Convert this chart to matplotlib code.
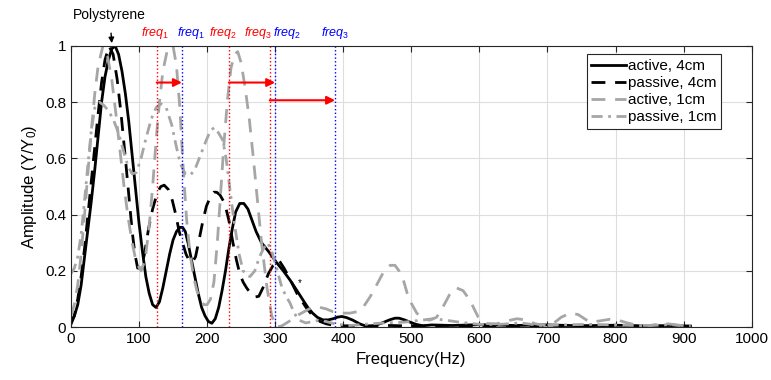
import numpy as np
import matplotlib
matplotlib.use("Agg")
import matplotlib.pyplot as plt

plt.rcParams['font.family'] = ['Liberation Sans', 'DejaVu Sans']
plt.rcParams['mathtext.fontset'] = 'custom'
plt.rcParams['mathtext.rm'] = 'Liberation Sans'
plt.rcParams['mathtext.it'] = 'Liberation Sans:italic'

# -------- data --------

# active, 4cm (black solid)
f_a4 = [0, 5, 10, 15, 20, 25, 30, 35, 40, 45, 50, 55, 60, 65, 70, 75, 80, 85, 90, 95,
        100, 105, 110, 115, 120, 125, 130, 135, 140, 145, 150, 155, 160, 164, 168, 172,
        177, 182, 187, 192, 197, 202, 207, 212, 217, 222, 227, 232, 237, 242, 248, 254,
        260, 266, 272, 280, 290, 302, 312, 322, 332, 341, 348, 355, 362, 370, 378, 385,
        392, 398, 405, 414, 424, 434, 442, 449, 458, 468, 476, 482, 490, 498, 507, 517,
        530, 560, 600, 650, 700, 750, 800, 850, 880, 910]
a_a4 = [0.02, 0.04, 0.08, 0.15, 0.25, 0.35, 0.45, 0.56, 0.68, 0.8, 0.89, 0.95, 0.99, 1.0,
        0.97, 0.91, 0.83, 0.73, 0.61, 0.49, 0.37, 0.27, 0.18, 0.12, 0.08, 0.07, 0.09, 0.14,
        0.2, 0.26, 0.31, 0.34, 0.355, 0.355, 0.34, 0.3, 0.24, 0.18, 0.12, 0.07, 0.04, 0.02,
        0.014, 0.03, 0.07, 0.13, 0.2, 0.28, 0.35, 0.41, 0.44, 0.44, 0.42, 0.38, 0.34, 0.3,
        0.27, 0.23, 0.2, 0.167, 0.13, 0.096, 0.07, 0.05, 0.035, 0.026, 0.026, 0.03, 0.036,
        0.038, 0.034, 0.025, 0.012, 0.003, 0.004, 0.008, 0.016, 0.026, 0.032, 0.032, 0.026,
        0.018, 0.01, 0.005, 0.008, 0.006, 0.009, 0.006, 0.008, 0.005, 0.007, 0.004, 0.006,
        0.004]

# passive, 4cm (black dashed)
f_p4 = [0, 5, 10, 15, 20, 25, 30, 35, 40, 45, 50, 56, 62, 68, 74, 80, 85, 90, 94, 98,
        103, 108, 114, 120, 127, 132, 137, 143, 149, 154, 159, 164, 169, 174, 178, 183,
        189, 194, 199, 205, 210, 214, 219, 226, 232, 238, 243, 248, 253, 258, 264, 270,
        276, 282, 290, 297, 305, 313, 322, 332, 340, 346, 352, 358, 366, 375, 385, 400,
        430, 470, 500, 550, 600, 650, 700, 750, 800, 850, 910]
a_p4 = [0.01, 0.04, 0.1, 0.18, 0.28, 0.4, 0.52, 0.64, 0.76, 0.87, 0.95, 1.0, 0.97, 0.88,
        0.75, 0.6, 0.47, 0.34, 0.26, 0.21, 0.21, 0.26, 0.35, 0.42, 0.48, 0.5, 0.505, 0.49,
        0.45, 0.4, 0.34, 0.3, 0.26, 0.235, 0.23, 0.25, 0.32, 0.38, 0.43, 0.465, 0.48, 0.48,
        0.47, 0.44, 0.38, 0.3, 0.24, 0.19, 0.16, 0.14, 0.12, 0.107, 0.11, 0.14, 0.19, 0.22,
        0.24, 0.21, 0.17, 0.12, 0.09, 0.068, 0.05, 0.036, 0.02, 0.012, 0.007, 0.005, 0.004,
        0.006, 0.004, 0.006, 0.003, 0.005, 0.003, 0.004, 0.003, 0.004, 0.003]

# active, 1cm (gray dashed)
f_a1 = [0, 5, 10, 15, 20, 25, 30, 35, 40, 47, 54, 60, 66, 72, 78, 84, 90, 96, 103, 109,
        115, 120, 125, 130, 135, 142, 150, 155, 160, 165, 170, 175, 180, 185, 190, 195,
        200, 205, 210, 215, 220, 225, 230, 235, 240, 245, 250, 256, 262, 268, 274, 280,
        288, 295, 302, 310, 320, 335, 350, 363, 375, 385, 398, 410, 420, 429, 440, 449,
        460, 469, 476, 482, 488, 494, 500, 508, 517, 527, 537, 546, 556, 566, 576, 586,
        598, 611, 625, 640, 655, 668, 682, 699, 708, 720, 733, 745, 762, 776, 791, 805,
        816, 831, 850, 870, 884, 899, 910]
a_a1 = [0.04, 0.08, 0.15, 0.26, 0.4, 0.55, 0.7, 0.83, 0.93, 1.0, 0.96, 0.88, 0.76, 0.63,
        0.5, 0.39, 0.3, 0.23, 0.2, 0.24, 0.36, 0.5, 0.66, 0.8, 0.91, 0.99, 1.0, 0.93, 0.78,
        0.56, 0.38, 0.26, 0.18, 0.13, 0.1, 0.08, 0.08, 0.1, 0.16, 0.3, 0.48, 0.66, 0.81,
        0.92, 0.97, 0.98, 0.94, 0.85, 0.74, 0.6, 0.45, 0.3, 0.14, 0.04, 0.0, 0.005, 0.02,
        0.045, 0.065, 0.072, 0.065, 0.055, 0.05, 0.05, 0.055, 0.07, 0.11, 0.15, 0.2, 0.22,
        0.22, 0.2, 0.17, 0.12, 0.085, 0.05, 0.03, 0.025, 0.035, 0.07, 0.115, 0.14, 0.13,
        0.096, 0.037, 0.013, 0.012, 0.022, 0.03, 0.026, 0.012, 0.005, 0.012, 0.035, 0.05,
        0.045, 0.018, 0.022, 0.028, 0.024, 0.016, 0.007, 0.006, 0.013, 0.01, 0.004, 0.002]

# passive, 1cm (gray dash-dot)
f_p1 = [0, 5, 10, 15, 20, 25, 30, 35, 42, 48, 55, 62, 70, 78, 84, 90, 96, 103, 110, 118,
        125, 132, 140, 148, 155, 161, 168, 175, 182, 190, 198, 205, 211, 217, 223, 228,
        233, 240, 247, 253, 258, 263, 270, 277, 283, 289, 295, 302, 310, 316, 322, 328,
        335, 345, 355, 365, 375, 390, 410, 430, 460, 490, 515, 532, 550, 570, 600, 630,
        660, 690, 720, 760, 800, 840, 880, 910]
a_p1 = [0.19, 0.21, 0.25, 0.33, 0.45, 0.58, 0.7, 0.78, 0.8, 0.79, 0.77, 0.74, 0.69, 0.62,
        0.57, 0.545, 0.55, 0.6, 0.67, 0.74, 0.78, 0.795, 0.78, 0.72, 0.64, 0.58, 0.545,
        0.54, 0.56, 0.61, 0.66, 0.7, 0.71, 0.69, 0.665, 0.6, 0.5, 0.37, 0.26, 0.2, 0.185,
        0.18, 0.2, 0.25, 0.28, 0.3, 0.27, 0.21, 0.14, 0.11, 0.085, 0.05, 0.025, 0.015,
        0.02, 0.025, 0.02, 0.01, 0.006, 0.01, 0.015, 0.018, 0.025, 0.03, 0.025, 0.018,
        0.01, 0.01, 0.015, 0.006, 0.008, 0.01, 0.008, 0.005, 0.009, 0.004]

# marker frequencies (Hz)
red_freqs = [126, 232, 292]
blue_freqs = [163, 300, 388]
arrow_y = [0.87, 0.87, 0.807]
red_lab_x = [123, 223, 275]
blue_lab_x = [177, 318, 388]

gray = '#a6a6a6'

fig = plt.figure(figsize=(7.71, 3.80), dpi=100)
ax = fig.add_axes([0.092, 0.139, 0.883, 0.740])

ax.plot(f_a4, a_a4, '-', color='k', lw=2, label='active, 4cm')
ax.plot(f_p4, a_p4, '--', color='k', lw=2, dashes=(5, 3.5), label='passive, 4cm')
ax.plot(f_a1, a_a1, '--', color=gray, lw=2, dashes=(5, 3.5), label='active, 1cm')
ax.plot(f_p1, a_p1, '-.', color=gray, lw=2, dashes=(4, 2, 1, 2), label='passive, 1cm')

for f in red_freqs:
    ax.axvline(f, color='red', ls=':', lw=1)
for f in blue_freqs:
    ax.axvline(f, color='blue', ls=':', lw=1)

for f0, f1, y in zip(red_freqs, blue_freqs, arrow_y):
    ax.annotate('', xy=(f1, y), xytext=(f0, y),
                arrowprops=dict(arrowstyle='-|>', color='red', lw=1.5,
                                mutation_scale=12, shrinkA=0, shrinkB=0))

# freq labels above the axes
for i, x in enumerate(red_lab_x):
    ax.text(x, 1.047, r'$\mathit{freq}_{%d}$' % (i + 1), color='red', fontsize=9,
            ha='center', va='center', clip_on=False)
for i, x in enumerate(blue_lab_x):
    ax.text(x, 1.047, r'$\mathit{freq}_{%d}$' % (i + 1), color='blue', fontsize=9,
            ha='center', va='center', clip_on=False)

ax.annotate('Polystyrene', xy=(60, 1.01), xytext=(57, 1.11), ha='center', va='center',
            fontsize=10, annotation_clip=False,
            arrowprops=dict(arrowstyle='-|>', color='k', lw=1, shrinkA=6, shrinkB=0,
                            mutation_scale=8))
ax.text(336, 0.157, '*', fontsize=7, ha='center', va='center')

ax.set_xlim(0, 1000)
ax.set_ylim(0, 1)
ax.set_xticks(np.arange(0, 1001, 100))
ax.set_yticks([0, 0.2, 0.4, 0.6, 0.8, 1])
ax.set_yticklabels(['0', '0.2', '0.4', '0.6', '0.8', '1'])
ax.tick_params(direction='in', top=True, right=True, labelsize=11, length=4,
               color='#262626')
for s in ax.spines.values():
    s.set_color('#262626')
    s.set_linewidth(0.8)
ax.grid(True, color='#dedede', lw=0.8)
ax.set_axisbelow(True)
ax.set_xlabel('Frequency(Hz)', fontsize=12)
ax.set_ylabel('Amplitude (Y/Y$_0$)', fontsize=12)

leg = ax.legend(loc='upper right', bbox_to_anchor=(0.955, 0.97), fontsize=11,
                handlelength=2.3, handletextpad=0.1, borderpad=0.3, labelspacing=0.2,
                fancybox=False, framealpha=1, borderaxespad=0)
leg.get_frame().set_edgecolor('#262626')
leg.get_frame().set_linewidth(0.8)

fig.savefig('out.png', dpi=100)
